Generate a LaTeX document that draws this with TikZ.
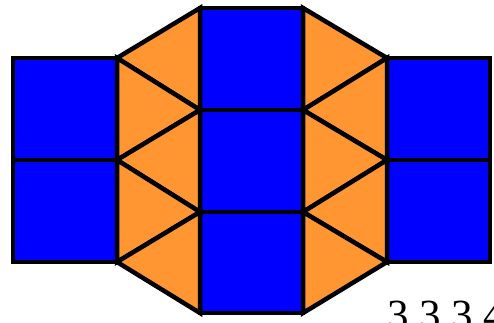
\documentclass[tikz,border=0pt]{standalone}
\usepackage{fontspec}
\setmainfont{Liberation Serif}
\usepackage{xcolor}
\usepackage{tikz}
\definecolor{tileblue}{RGB}{0,0,255}
\definecolor{tileorange}{RGB}{255,150,50}
\tikzset{
  sqtile/.style={fill=tileblue,draw=black,line width=4.5pt},
  tritile/.style={fill=tileorange,draw=black,line width=4.5pt},
  caption/.style={font=\fontsize{43}{43}\selectfont,inner sep=0pt,anchor=base west},
}

\begin{document}
\begin{tikzpicture}[x=1pt,y=1pt]
  \useasboundingbox (0,0) rectangle (494,323);
  \clip (0,0) rectangle (494,323);
  % --- vertices ---
  \coordinate (l1) at (117,265); \coordinate (l2) at (117,163); \coordinate (l3) at (117,61);
  \coordinate (c0) at (200,315); \coordinate (c1) at (200,213);
  \coordinate (c2) at (200,111); \coordinate (c3) at (200,10);
  \coordinate (d0) at (303,315); \coordinate (d1) at (303,213);
  \coordinate (d2) at (303,111); \coordinate (d3) at (303,10);
  \coordinate (r1) at (387,265); \coordinate (r2) at (387,163); \coordinate (r3) at (387,61);
  % --- squares ---
  \draw[sqtile] (13,265) rectangle (l2);
  \draw[sqtile] (13,163) rectangle (l3);
  \draw[sqtile] (c0) rectangle (d1);
  \draw[sqtile] (c1) rectangle (d2);
  \draw[sqtile] (c2) rectangle (d3);
  \draw[sqtile] (r1) rectangle (490,163);
  \draw[sqtile] (r2) rectangle (490,61);
  % --- triangles, left column ---
  \draw[tritile] (l1) -- (c0) -- (c1) -- cycle;
  \draw[tritile] (l1) -- (c1) -- (l2) -- cycle;
  \draw[tritile] (l2) -- (c1) -- (c2) -- cycle;
  \draw[tritile] (l2) -- (c2) -- (l3) -- cycle;
  \draw[tritile] (l3) -- (c2) -- (c3) -- cycle;
  % --- triangles, right column ---
  \draw[tritile] (r1) -- (d0) -- (d1) -- cycle;
  \draw[tritile] (r1) -- (d1) -- (r2) -- cycle;
  \draw[tritile] (r2) -- (d1) -- (d2) -- cycle;
  \draw[tritile] (r2) -- (d2) -- (r3) -- cycle;
  \draw[tritile] (r3) -- (d2) -- (d3) -- cycle;
  % --- label ---
  \node[caption] (name) at (387,-7) {3.3.3.4};
\end{tikzpicture}
\end{document}
